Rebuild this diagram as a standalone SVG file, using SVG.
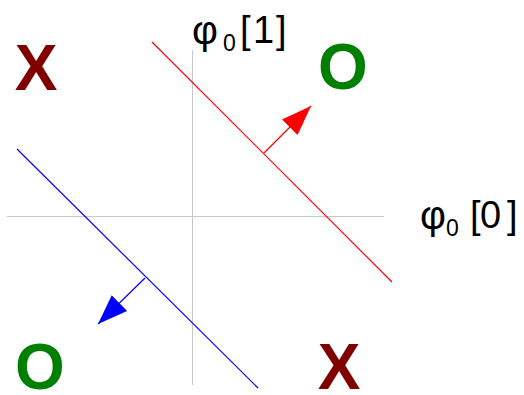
<svg xmlns="http://www.w3.org/2000/svg" width="524" height="395" viewBox="0 0 524 395">
<style>
.axis{stroke:#c8c8c8;stroke-width:1;fill:none}
.lbl{font-family:"Liberation Sans",Arial,sans-serif;font-size:38px;fill:#000}
.phi{font-size:40px}
.sub{font-size:23px}
.big{font-family:"Liberation Sans",Arial,sans-serif;font-size:64px;font-weight:bold;text-anchor:middle}
.x{fill:#800000}
.o{fill:#008000}
</style>
<defs>
<marker id="ahR" markerUnits="userSpaceOnUse" markerWidth="32" markerHeight="24" viewBox="0 -12 32 24" refX="30" refY="0" orient="auto"><path d="M0,-11 L30,0 L0,11 z" fill="#ff0000"/></marker>
<marker id="ahB" markerUnits="userSpaceOnUse" markerWidth="32" markerHeight="24" viewBox="0 -12 32 24" refX="30" refY="0" orient="auto"><path d="M0,-11 L30,0 L0,11 z" fill="#0000ff"/></marker>
</defs>
<rect width="524" height="395" fill="#fff"/>
<g id="axes">
<line class="axis" x1="7" y1="216.5" x2="384" y2="216.5"/>
<line class="axis" x1="192.5" y1="50" x2="192.5" y2="385"/>
</g>
<g id="connectors">
<line x1="152" y1="42" x2="392" y2="282" stroke="#ff0000" stroke-width="1.2"/>
<line x1="264" y1="153" x2="311" y2="106" stroke="#ff0000" stroke-width="1.2" marker-end="url(#ahR)"/>
<line x1="17" y1="149" x2="258" y2="388" stroke="#0000ff" stroke-width="1.2"/>
<line x1="145" y1="278" x2="98" y2="324" stroke="#0000ff" stroke-width="1.2" marker-end="url(#ahB)"/>
</g>
<g id="label-phi1">
<text class="lbl"><tspan class="phi" x="192" y="44">φ</tspan><tspan class="sub" x="223" y="51">0</tspan><tspan x="240" y="43">[</tspan><tspan x="253" y="43">1</tspan><tspan x="276" y="43">]</tspan></text>
</g>
<g id="label-phi0">
<text class="lbl"><tspan class="phi" x="420" y="229">φ</tspan><tspan class="sub" x="446" y="236">0</tspan><tspan x="470" y="228">[</tspan><tspan x="480" y="228">0</tspan><tspan x="507" y="228">]</tspan></text>
</g>
<g id="x-topleft"><text class="big x" x="36" y="90">X</text></g>
<g id="o-topright"><text class="big o" x="343" y="89">O</text></g>
<g id="o-bottomleft"><text class="big o" x="40" y="389">O</text></g>
<g id="x-bottomright"><text class="big x" x="339" y="389">X</text></g>
</svg>
